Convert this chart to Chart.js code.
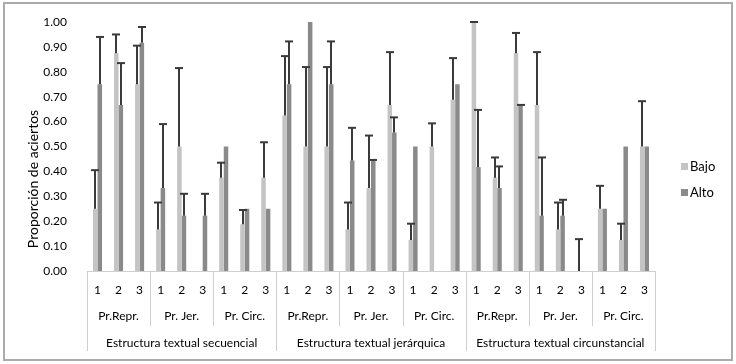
<!DOCTYPE html>
<html lang="es">
<head>
  <meta charset="UTF-8" />
  <title>Proporción de aciertos</title>
  <script src="https://cdn.jsdelivr.net/npm/chart.js"></script>
  <style>
    html, body { margin: 0; padding: 0; background: #fff; }
    #wrap { width: 736px; height: 364px; }
  </style>
</head>
<body>
  <div id="wrap"><canvas id="grafico" width="736" height="364"></canvas></div>

  <script>
    // items 1-2-3 por cada tipo de pregunta y estructura
    const items = ['1','2','3','1','2','3','1','2','3','1','2','3','1','2','3','1','2','3','1','2','3','1','2','3','1','2','3'];
    const preguntas = ['Pr.Repr.', 'Pr. Jer.', 'Pr. Circ.', 'Pr.Repr.', 'Pr. Jer.', 'Pr. Circ.', 'Pr.Repr.', 'Pr. Jer.', 'Pr. Circ.'];
    const estructuras = ['Estructura textual secuencial', 'Estructura textual jerárquica', 'Estructura textual circunstancial'];
    const yTicks = [0, 0.1, 0.2, 0.3, 0.4, 0.5, 0.6, 0.7, 0.8, 0.9, 1.0];

    const bajo = [0.25, 0.875, 0.75, 0.167, 0.5, 0, 0.375, 0.188, 0.375,
                  0.625, 0.5, 0.5, 0.167, 0.333, 0.667, 0.125, 0.5, 0.688,
                  1.0, 0.375, 0.875, 0.667, 0.167, 0, 0.25, 0.125, 0.5];
    const alto = [0.75, 0.667, 0.917, 0.333, 0.222, 0.222, 0.5, 0.25, 0.25,
                  0.75, 1.0, 0.75, 0.444, 0.444, 0.556, 0.5, 0, 0.75,
                  0.417, 0.333, 0.667, 0.222, 0.222, 0, 0.25, 0.5, 0.5];
    // extremo superior de la barra de error (null = sin barra)
    const bajoSup = [0.405, 0.95, 0.905, 0.275, 0.815, null, 0.435, 0.245, 0.517,
                     0.863, 0.819, 0.819, 0.275, 0.544, 0.879, 0.19, 0.593, 0.855,
                     1.0, 0.456, 0.956, 0.879, 0.275, 0.128, 0.342, 0.19, 0.682];
    const altoSup = [0.94, 0.835, 0.98, 0.59, 0.31, 0.31, null, null, null,
                     0.922, null, 0.922, 0.575, 0.446, 0.617, null, null, null,
                     0.647, 0.42, 0.667, 0.456, 0.286, null, null, null, null];

    const fuente = 'Lato, "Open Sans", sans-serif';

    const barrasError = {
      id: 'barrasError',
      afterDatasetsDraw(chart) {
        const ctx = chart.ctx;
        const y = chart.scales.y;
        const sups = [bajoSup, altoSup];
        ctx.save();
        ctx.strokeStyle = '#3a3a3a';
        ctx.lineWidth = 2;
        sups.forEach((sup, d) => {
          const meta = chart.getDatasetMeta(d);
          meta.data.forEach((bar, i) => {
            if (sup[i] == null) return;
            const x = Math.round(bar.x);
            const yTop = y.getPixelForValue(sup[i]);
            ctx.beginPath();
            ctx.moveTo(x, bar.y);
            ctx.lineTo(x, yTop);
            ctx.stroke();
            ctx.beginPath();
            ctx.moveTo(x - 4, yTop);
            ctx.lineTo(x + 4, yTop);
            ctx.stroke();
          });
        });
        ctx.restore();
      }
    };

    const ejeNiveles = {
      id: 'ejeNiveles',
      afterDraw(chart) {
        const ctx = chart.ctx;
        const area = chart.chartArea;
        const w = (area.right - area.left) / items.length;
        const base = area.bottom;
        ctx.save();
        ctx.strokeStyle = '#cfcfcf';
        ctx.lineWidth = 1;
        // separadores
        for (let k = 0; k <= items.length; k += 3) {
          const x = Math.round(area.left + k * w) + 0.5;
          const largo = (k % 9 === 0) ? 80 : 55;
          ctx.beginPath();
          ctx.moveTo(x, base);
          ctx.lineTo(x, base + largo);
          ctx.stroke();
        }
        ctx.fillStyle = '#000';
        ctx.textAlign = 'center';
        ctx.textBaseline = 'middle';
        ctx.font = '12px ' + fuente;
        preguntas.forEach((p, g) => {
          ctx.fillText(p, area.left + (g * 3 + 1.5) * w, base + 45);
        });
        estructuras.forEach((e, g) => {
          ctx.fillText(e, area.left + (g * 9 + 4.5) * w, base + 72);
        });
        // titulo del eje y
        ctx.save();
        ctx.translate(33, 179);
        ctx.rotate(-Math.PI / 2);
        ctx.font = '14px ' + fuente;
        ctx.fillText('Proporción de aciertos', 0, 0);
        ctx.restore();
        // leyenda
        const ley = [['Bajo', '#c4c4c4'], ['Alto', '#8a8a8a']];
        ctx.textAlign = 'left';
        ctx.font = '13px ' + fuente;
        ley.forEach((l, j) => {
          const yy = 167 + j * 26;
          ctx.fillStyle = l[1];
          ctx.fillRect(681, yy - 4, 7, 7);
          ctx.fillStyle = '#000';
          ctx.fillText(l[0], 690, yy);
        });
        // marco exterior
        ctx.strokeStyle = '#ababab';
        ctx.lineWidth = 2;
        ctx.strokeRect(4, 3, 728, 357);
        ctx.restore();
      }
    };

    new Chart(document.getElementById('grafico'), {
      type: 'bar',
      data: {
        labels: items,
        datasets: [
          { label: 'Bajo', data: bajo, backgroundColor: '#c4c4c4' },
          { label: 'Alto', data: alto, backgroundColor: '#8a8a8a' }
        ]
      },
      options: {
        responsive: false,
        devicePixelRatio: 1,
        animation: false,
        categoryPercentage: 0.43,
        barPercentage: 1,
        layout: { padding: { top: 22, right: 81, left: 0, bottom: 0 } },
        plugins: {
          legend: { display: false },
          tooltip: { enabled: false }
        },
        scales: {
          x: {
            grid: { display: false, drawTicks: false },
            border: { display: true, color: '#cfcfcf' },
            ticks: { color: '#000', font: { family: fuente, size: 12 }, padding: 12, maxRotation: 0, autoSkip: false },
            afterFit(s) { s.height = 93; }
          },
          y: {
            min: 0,
            max: 1,
            afterBuildTicks(s) { s.ticks = yTicks.map(v => ({ value: v })); },
            grid: { display: false },
            border: { display: false },
            ticks: { color: '#000', font: { family: fuente, size: 12 }, padding: 12, callback: v => v.toFixed(2) },
            afterFit(s) { s.width = 87; }
          }
        }
      },
      plugins: [barrasError, ejeNiveles]
    });
  </script>
</body>
</html>
